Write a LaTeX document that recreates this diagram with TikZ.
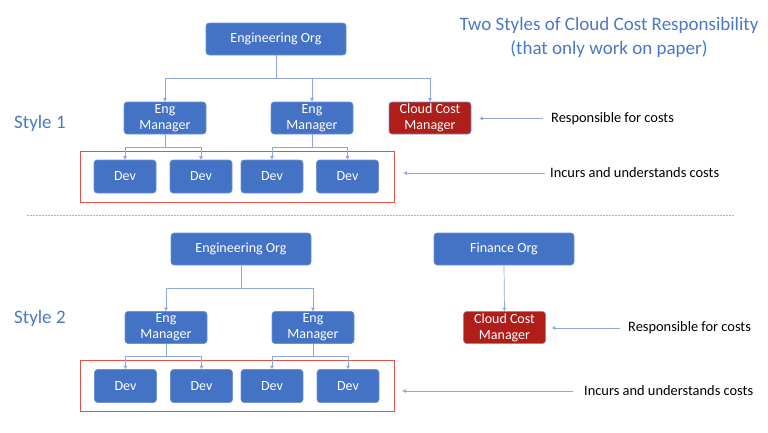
\documentclass[tikz,border=0pt]{standalone}
\usepackage{fontspec}
\setmainfont{Carlito}
\usetikzlibrary{arrows.meta}
\definecolor{boxblue}{HTML}{4472C4}
\definecolor{boxedge}{HTML}{6F92D2}
\definecolor{ccred}{HTML}{B01E1A}
\definecolor{linkblue}{HTML}{8EA9DB}
\definecolor{framered}{HTML}{E0524A}
\definecolor{titleblue}{HTML}{4A78C8}
\definecolor{sepblue}{HTML}{9DB6E6}
\begin{document}
\begin{tikzpicture}[x=1pt,y=-1pt,
  box/.style={draw=boxedge,fill=boxblue,rounded corners=3pt,text=white,
    font=\fontsize{14}{16}\selectfont,align=center,inner sep=0pt,line width=0.6pt},
  orgbox/.style={box,minimum width=140pt,minimum height=32pt},
  mgrbox/.style={box,minimum width=82pt,minimum height=32pt},
  devbox/.style={box,minimum width=62pt,minimum height=33pt},
  ccbox/.style={mgrbox,fill=ccred},
  groupframe/.style={draw=framered,line width=0.8pt,minimum width=314pt,minimum height=51pt,inner sep=0pt},
  link/.style={draw=linkblue,line width=0.7pt},
  arr/.style={link,-{Triangle[length=3.5pt,width=3.5pt]}},
  note/.style={anchor=west,inner sep=0pt,font=\fontsize{14.4}{16}\selectfont,text=black},
  stylelabel/.style={anchor=west,inner sep=0pt,font=\fontsize{19}{22}\selectfont,text=titleblue},
  title/.style={align=center,inner sep=0pt,font=\fontsize{19}{24}\selectfont,text=titleblue}
]
\useasboundingbox (0,0) rectangle (768,432);

% title
\node[title] (title) at (609,37) {Two Styles of Cloud Cost Responsibility\\(that only work on paper)};

% ---------- Style 1 ----------
\node[stylelabel] (s1) at (14,123) {Style 1};
\node[orgbox] (eo1) at (276,39) {Engineering Org};
\node[mgrbox] (em11) at (165,118) {Eng\\Manager};
\node[mgrbox] (em12) at (312,118) {Eng\\Manager};
\node[ccbox] (cc1) at (430,118) {Cloud Cost\\Manager};
\node[groupframe] (g1) at (237,176.5) {};
\node[devbox] (d11) at (125,176.5) {Dev};
\node[devbox] (d12) at (201,176.5) {Dev};
\node[devbox] (d13) at (272,176.5) {Dev};
\node[devbox] (d14) at (347.5,176.5) {Dev};

\coordinate (b1) at (276,78);
\draw[link] (eo1.south) -- (b1);
\draw[arr] (b1) -| (em11.north);
\draw[arr] (b1) -| (em12.north);
\draw[arr] (b1) -| (cc1.north);
\draw[arr] (em11.south) -- ++(0,13) -| (d11.north);
\draw[arr] (em11.south) -- ++(0,13) -| (d12.north);
\draw[arr] (em12.south) -- ++(0,13) -| (d13.north);
\draw[arr] (em12.south) -- ++(0,13) -| (d14.north);

\node[note] (r1) at (551,118.5) {Responsible for costs};
\node[note] (i1) at (550,173) {Incurs and understands costs};
\draw[arr,shorten <=8pt,shorten >=8pt] (r1.west) -- (r1.west -| cc1.east);
\draw[arr,shorten <=5pt,shorten >=9pt] (i1.west) -- (i1.west -| g1.east);

% separator
\coordinate (sepL) at (27,215);
\coordinate (sepR) at (735,215);
\draw[sepblue,line width=0.8pt,dash pattern=on 1.5pt off 1.5pt] (sepL) -- (sepR);

% ---------- Style 2 ----------
\node[stylelabel] (s2) at (14,318) {Style 2};
\node[orgbox] (eo2) at (241,249) {Engineering Org};
\node[orgbox] (fo2) at (504,249) {Finance Org};
\node[mgrbox] (em21) at (166,327.5) {Eng\\Manager};
\node[mgrbox] (em22) at (313,327.5) {Eng\\Manager};
\node[ccbox] (cc2) at (504.5,327.5) {Cloud Cost\\Manager};
\node[groupframe] (g2) at (237,386) {};
\node[devbox] (d21) at (125.5,386) {Dev};
\node[devbox] (d22) at (201.5,386) {Dev};
\node[devbox] (d23) at (272,386) {Dev};
\node[devbox] (d24) at (348,386) {Dev};

\coordinate (b2) at (241,288);
\draw[link] (eo2.south) -- (b2);
\draw[arr] (b2) -| (em21.north);
\draw[arr] (b2) -| (em22.north);
\draw[arr] (fo2.south) -- (cc2.north);
\draw[arr] (em21.south) -- ++(0,13) -| (d21.north);
\draw[arr] (em21.south) -- ++(0,13) -| (d22.north);
\draw[arr] (em22.south) -- ++(0,13) -| (d23.north);
\draw[arr] (em22.south) -- ++(0,13) -| (d24.north);

\node[note] (r2) at (628,328) {Responsible for costs};
\node[note] (i2) at (584,391) {Incurs and understands costs};
\draw[arr,shorten <=8pt,shorten >=6pt] (r2.west) -- (r2.west -| cc2.east);
\draw[arr,shorten <=11pt,shorten >=8pt] (i2.west) -- (i2.west -| g2.east);
\end{tikzpicture}
\end{document}
